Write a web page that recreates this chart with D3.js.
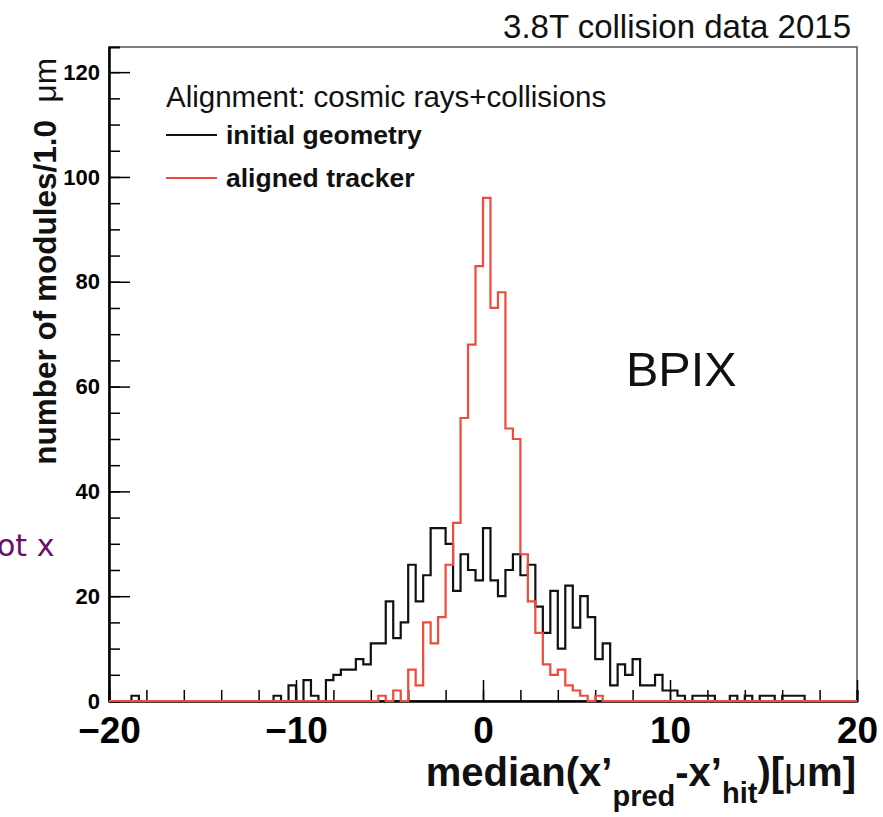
<!DOCTYPE html>
<html>
<head>
<meta charset="utf-8">
<script src="https://cdn.jsdelivr.net/npm/d3@7"></script>
<style>
  body { margin: 0; background: #fff; }
  svg { display: block; font-family: "Liberation Sans", Arial, sans-serif; }
</style>
</head>
<body>
<svg id="chart" width="883" height="817"></svg>
<script>
// Histogram binning: 100 bins of 0.4 µm from -20 to 20 µm
const binLow = -20;
const binWidth = 0.4;

// Module counts per bin, initial geometry (black)
const initialGeometry = [
  0, 0, 0, 1, 0, 0, 0, 0, 0, 0,
  0, 0, 0, 0, 0, 0, 0, 0, 0, 0,
  0, 0, 1, 0, 3, 0, 4, 1, 0, 4,
  5, 6, 6, 8, 7, 11, 11, 19, 12, 15,
  26, 19, 24, 33, 33, 30, 21, 28, 25, 23,
  33, 23, 20, 25, 28, 24, 26, 18, 13, 21,
  10, 22, 14, 20, 16, 8, 11, 3, 7, 5,
  8, 3, 3, 5, 2, 2, 1, 0, 1, 1,
  1, 0, 0, 1, 0, 1, 0, 1, 1, 0,
  1, 1, 1, 0, 0, 0, 0, 0, 0, 0
];

// Module counts per bin, aligned tracker (red)
const alignedTracker = [
  0, 0, 0, 0, 0, 0, 0, 0, 0, 0,
  0, 0, 0, 0, 0, 0, 0, 0, 0, 0,
  0, 0, 0, 0, 0, 0, 0, 0, 0, 0,
  0, 0, 0, 0, 0, 0, 1, 0, 2, 0,
  6, 3, 15, 11, 16, 26, 34, 54, 68, 83,
  96, 75, 78, 52, 50, 28, 19, 13, 7, 5,
  6, 3, 2, 1, 0, 1, 0, 0, 0, 0,
  0, 0, 0, 0, 0, 0, 0, 0, 0, 0,
  0, 0, 0, 0, 0, 0, 0, 0, 0, 0,
  0, 0, 0, 0, 0, 0, 0, 0, 0, 0
];

const xMajorTicks = [-20, -10, 0, 10, 20];
const xMinorTicks = d3.range(-20, 20.001, 2);
const yMajorTicks = [0, 20, 40, 60, 80, 100, 120];
const yMinorTicks = d3.range(0, 121, 5);

const seriesNames = ["initial geometry", "aligned tracker"];
const seriesColors = ["#111111", "#ef4a3a"];

const svg = d3.select("#chart");
const frame = { left: 109, right: 857, top: 47, bottom: 701 };

const x = d3.scaleLinear().domain([-20, 20]).range([frame.left, frame.right]);
const y = d3.scaleLinear().domain([0, 124.8]).range([frame.bottom, frame.top]);

// Frame
svg.append("rect")
  .attr("x", frame.left).attr("y", frame.top)
  .attr("width", frame.right - frame.left).attr("height", frame.bottom - frame.top)
  .attr("fill", "none").attr("stroke", "#555").attr("stroke-width", 1.5);

// Step outline of a histogram
function stepPoints(counts) {
  const pts = [];
  counts.forEach((c, i) => {
    const lo = binLow + i * binWidth;
    pts.push([lo, c], [lo + binWidth, c]);
  });
  return pts;
}
const line = d3.line().x(d => x(d[0])).y(d => y(d[1]));

// Axes
const xMinor = svg.append("g").attr("transform", `translate(0,${frame.bottom})`)
  .call(d3.axisBottom(x).tickValues(xMinorTicks).tickSize(-11).tickFormat(""));
const xMajor = svg.append("g").attr("transform", `translate(0,${frame.bottom})`)
  .call(d3.axisBottom(x).tickValues(xMajorTicks).tickSizeInner(-21).tickSizeOuter(0).tickPadding(16)
    .tickFormat(d3.format("d")));
const yMinor = svg.append("g").attr("transform", `translate(${frame.left},0)`)
  .call(d3.axisLeft(y).tickValues(yMinorTicks).tickSize(-11).tickFormat(""));
const yMajor = svg.append("g").attr("transform", `translate(${frame.left},0)`)
  .call(d3.axisLeft(y).tickValues(yMajorTicks).tickSizeInner(-21).tickSizeOuter(0).tickPadding(9)
    .tickFormat(d3.format("d")));

[xMinor, xMajor, yMinor, yMajor].forEach(g => {
  g.selectAll(".domain").attr("stroke", "#000").attr("stroke-width", 2);
  g.selectAll(".tick line").attr("stroke", "#000").attr("stroke-width", 1.5);
});
xMajor.selectAll(".tick text")
  .attr("font-size", 37).attr("font-weight", "bold").attr("fill", "#000")
  .attr("font-family", "Liberation Sans, Arial, sans-serif");
yMajor.selectAll(".tick text")
  .attr("font-size", 22).attr("font-weight", "bold").attr("fill", "#000")
  .attr("font-family", "Liberation Sans, Arial, sans-serif");

// Histograms
[initialGeometry, alignedTracker].forEach((counts, k) => {
  svg.append("path")
    .attr("d", line(stepPoints(counts)))
    .attr("fill", "none")
    .attr("stroke", seriesColors[k])
    .attr("stroke-width", 2.2);
});

// Legend
const legend = svg.append("g");
legend.append("text")
  .attr("x", 166).attr("y", 107)
  .attr("font-size", 29.5).attr("fill", "#111")
  .text("Alignment: cosmic rays+collisions");
const legendY = [135, 178];
seriesNames.forEach((name, k) => {
  legend.append("line")
    .attr("x1", 166).attr("x2", 217)
    .attr("y1", legendY[k]).attr("y2", legendY[k])
    .attr("stroke", seriesColors[k]).attr("stroke-width", 2.2);
  legend.append("text")
    .attr("x", 226).attr("y", legendY[k] + 9)
    .attr("font-size", 26.5).attr("font-weight", "bold").attr("fill", "#111")
    .text(name);
});

// Detector label
svg.append("text")
  .attr("x", 626).attr("y", 386)
  .attr("font-size", 48.5).attr("fill", "#111")
  .text("BPIX");

// Data-taking label above the frame
svg.append("text")
  .attr("x", 851).attr("y", 38).attr("text-anchor", "end")
  .attr("font-size", 33).attr("fill", "#111")
  .text("3.8T collision data 2015");

// Y axis title
const yTitle = svg.append("text")
  .attr("transform", `translate(56,${frame.top + 11}) rotate(-90)`)
  .attr("text-anchor", "end")
  .attr("font-size", 31.5).attr("font-weight", "bold").attr("fill", "#111");
yTitle.append("tspan").text("number of modules/1.0 ");
yTitle.append("tspan").attr("font-weight", "normal").text("\u00a0\u03bcm");

// X axis title with subscripts
const xTitle = svg.append("text")
  .attr("x", 856).attr("y", 786).attr("text-anchor", "end")
  .attr("font-size", 40).attr("font-weight", "bold").attr("fill", "#111");
xTitle.append("tspan").text("median(x\u2019");
xTitle.append("tspan").attr("font-size", 29).attr("dy", 20).text("pred");
xTitle.append("tspan").attr("dy", -20).text("-x\u2019");
xTitle.append("tspan").attr("font-size", 29).attr("dy", 17).text("hit");
xTitle.append("tspan").attr("dy", -17).text(")[");
xTitle.append("tspan").attr("font-weight", "normal").text("\u03bc");
xTitle.append("tspan").text("m]");

// Fragment of slide text at the left edge
svg.append("text")
  .attr("x", -3).attr("y", 556)
  .attr("font-size", 30).attr("fill", "#6b0d6b")
  .attr("font-family", "DejaVu Sans, sans-serif")
  .text("ot x");
</script>
</body>
</html>
